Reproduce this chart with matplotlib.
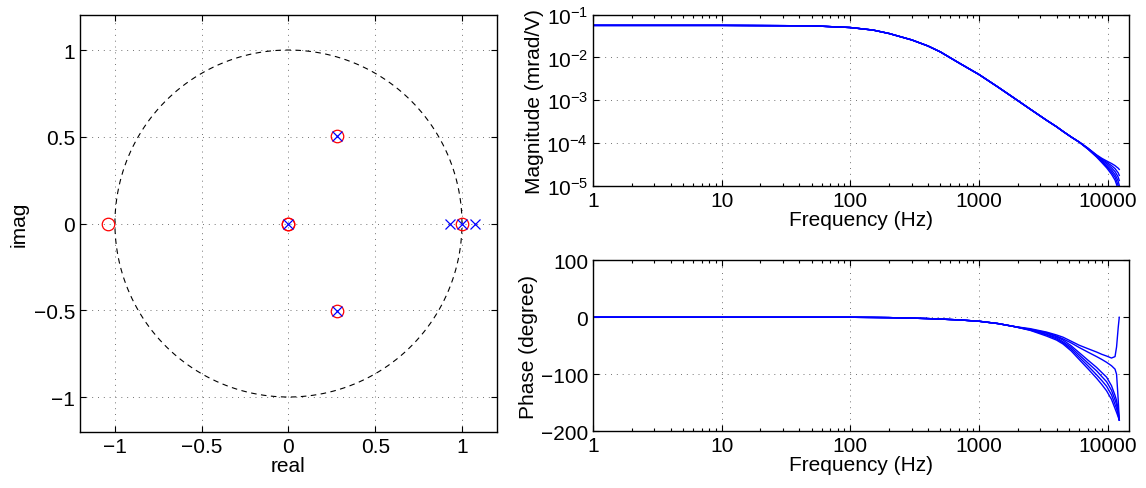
# Pole-zero map and Bode plot of the identified actuator model
import matplotlib.pyplot as plt
import numpy as np
from matplotlib.ticker import FixedLocator, NullFormatter

plt.rcParams['font.family'] = ['Liberation Sans', 'DejaVu Sans']
plt.rcParams['font.size'] = 15
plt.rcParams['xtick.direction'] = 'in'
plt.rcParams['ytick.direction'] = 'in'
plt.rcParams['mathtext.fontset'] = 'custom'
plt.rcParams['mathtext.rm'] = 'Liberation Sans'

zeros_re = [0.0, 0.0, 0.277, 0.277, 1.0, -1.04]
zeros_im = [0.0, 0.0, 0.505, -0.505, 0.0, 0.0]
poles_re = [0.0, 0.277, 0.277, 0.93, 1.0, 1.074]
poles_im = [0.0, 0.505, -0.505, 0.0, 0.0, 0.0]

# frequency grid (Hz) used for the Bode curves
freq = [1, 10, 50, 100, 150, 200, 300, 400, 500, 700, 1000, 1400, 1850,
        2500, 3350, 4000, 4500, 5200, 6000, 7000, 8200, 9000, 9800, 10700,
        11400, 11720, 12070, 12300]

# magnitude (mrad/V): common part up to 6 kHz, then six diverging curves
mag_common = [0.0562, 0.0562, 0.0550, 0.0501, 0.0437, 0.0363, 0.0257,
              0.0186, 0.0135, 0.00741, 0.00398, 0.00204, 0.00115, 6.17e-4,
              3.39e-4, 2.40e-4, 1.86e-4, 1.38e-4, 1.05e-4]
mag_tails = [
    [7.59e-5, 5.25e-5, 4.37e-5, 3.80e-5, 3.31e-5, 2.95e-5, 2.75e-5, 2.57e-5, 2.40e-5],
    [7.59e-5, 5.13e-5, 4.17e-5, 3.55e-5, 2.95e-5, 2.51e-5, 2.24e-5, 2.00e-5, 1.74e-5],
    [7.41e-5, 5.01e-5, 3.98e-5, 3.31e-5, 2.63e-5, 2.14e-5, 1.86e-5, 1.58e-5, 1.32e-5],
    [7.41e-5, 4.90e-5, 3.80e-5, 3.02e-5, 2.34e-5, 1.82e-5, 1.55e-5, 1.26e-5, 1.02e-5],
    [7.24e-5, 4.79e-5, 3.63e-5, 2.82e-5, 2.09e-5, 1.58e-5, 1.29e-5, 1.00e-5, 7.9e-6],
    [7.24e-5, 4.68e-5, 3.47e-5, 2.63e-5, 1.86e-5, 1.35e-5, 1.07e-5, 7.9e-6, 6.3e-6],
]

# phase (degree): common part up to 1.85 kHz, then six diverging curves
phase_common = [0, 0, 0, 0, -0.3, -0.6, -1.5, -2.3, -3.2, -4.6, -7, -11, -16]
phase_tails = [
    [-20, -26, -31, -35, -42, -49, -55, -61, -65, -68, -71.5, -69, -52, -18, 0],
    [-21, -27, -33, -38, -45, -53, -61, -69, -74, -79, -85, -91, -100, -145, -180],
    [-21.5, -28, -34, -40, -50, -62, -75, -88, -97, -105, -120, -137, -146, -163, -180],
    [-22, -30, -36, -43, -53, -66, -80, -94, -104, -113, -128, -145, -153, -168, -180],
    [-22.5, -31, -38, -45, -56, -70, -85, -101, -111, -121, -136, -153, -160, -172, -180],
    [-23, -33, -40, -47, -59, -74, -90, -107, -118, -129, -144, -160, -167, -175, -180],
]

grid_kw = dict(color='0.45', linestyle=(0, (1, 5)), linewidth=0.7)


def style_box(ax):
    ax.tick_params(which='both', top=True, right=True, length=4, width=0.8)
    ax.tick_params(which='minor', length=2.5)
    for s in ax.spines.values():
        s.set_linewidth(1.0)


def freq_axis(ax):
    ax.set_xscale('log')
    ax.set_xlim(1, 14650)
    ax.xaxis.set_major_locator(FixedLocator([1, 10, 100, 1000, 10000]))
    ax.set_xticklabels(['1', '10', '100', '1000', '10000'])
    ax.xaxis.set_minor_formatter(NullFormatter())
    ax.set_xlabel('Frequency (Hz)', labelpad=0)


fig = plt.figure(figsize=(11.46, 4.89), dpi=100)

# pole-zero map
ax0 = fig.add_axes([0.0700, 0.1151, 0.3634, 0.8515])
t = np.linspace(0, 2 * np.pi, 400)
ax0.plot(np.cos(t), np.sin(t), 'k--', lw=0.8, dashes=(5, 4))
ax0.plot(zeros_re, zeros_im, 'o', mfc='none', mec='red', ms=9, mew=0.9)
ax0.plot(poles_re, poles_im, 'x', color='blue', ms=6.5, mew=0.9)
ax0.set_xlim(-1.2, 1.2)
ax0.set_ylim(-1.2, 1.2)
ax0.set_xticks([-1, -0.5, 0, 0.5, 1])
ax0.set_yticks([-1, -0.5, 0, 0.5, 1])
ax0.set_xticklabels(['\u22121', '\u22120.5', '0', '0.5', '1'])
ax0.set_yticklabels(['\u22121', '\u22120.5', '0', '0.5', '1'])
ax0.grid(True, **grid_kw)
ax0.set_xlabel('real', labelpad=0)
ax0.set_ylabel('imag')
style_box(ax0)

# magnitude
ax1 = fig.add_axes([0.5175, 0.6182, 0.4677, 0.3497])
for tail in mag_tails:
    ax1.plot(freq, mag_common + tail, color='blue', lw=1)
freq_axis(ax1)
ax1.set_yscale('log')
ax1.set_ylim(1e-5, 1e-1)
ax1.yaxis.set_major_locator(FixedLocator([1e-5, 1e-4, 1e-3, 1e-2, 1e-1]))
ax1.yaxis.set_minor_formatter(NullFormatter())
ax1.grid(True, which='major', **grid_kw)
ax1.set_ylabel('Magnitude (mrad/V)', labelpad=2)
style_box(ax1)

# phase
ax2 = fig.add_axes([0.5175, 0.1160, 0.4677, 0.3497])
for tail in phase_tails:
    ax2.plot(freq, phase_common + tail, color='blue', lw=1)
freq_axis(ax2)
ax2.set_ylim(-200, 100)
ax2.set_yticks([-200, -100, 0, 100])
ax2.set_yticklabels(['\u2212200', '\u2212100', '0', '100'])
ax2.grid(True, which='major', **grid_kw)
ax2.set_ylabel('Phase (degree)', labelpad=2)
style_box(ax2)

fig.savefig('out.png', dpi=100)
